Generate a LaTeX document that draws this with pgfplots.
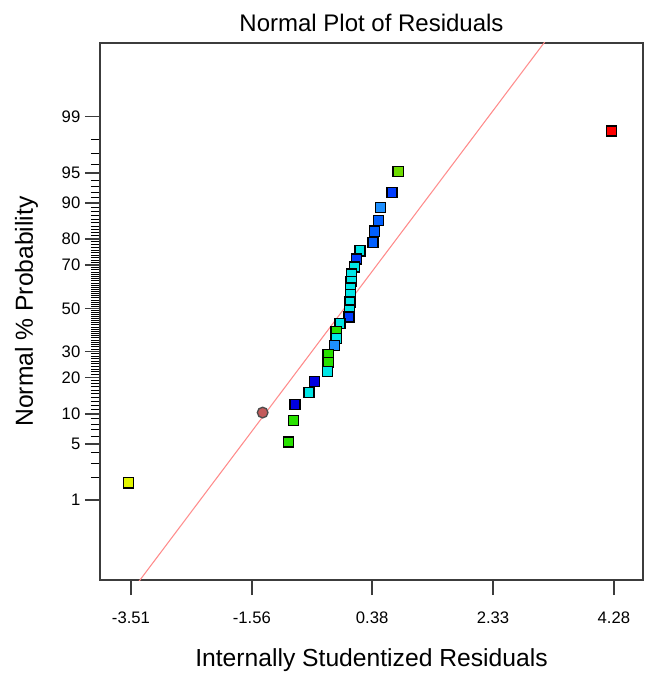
\documentclass[border=0pt]{standalone}
\usepackage{pgfplots}
\pgfplotsset{compat=1.18}
\usepackage{pgfplotstable}
\usepackage{fontspec}
\setmainfont{Liberation Sans}

\definecolor{pR}{RGB}{255,0,0}
\definecolor{pL}{RGB}{110,220,0}
\definecolor{pB}{RGB}{0,60,255}
\definecolor{pS}{RGB}{30,144,255}
\definecolor{pM}{RGB}{0,95,255}
\definecolor{pC}{RGB}{0,230,230}
\definecolor{pD}{RGB}{0,0,225}
\definecolor{pG}{RGB}{40,225,0}
\definecolor{pW}{RGB}{195,90,90}
\definecolor{pY}{RGB}{225,245,0}
\definecolor{fitline}{RGB}{255,140,140}
\definecolor{axgray}{RGB}{60,60,60}

% residual vs normal score (z of the plotting position)
\pgfplotstableread{
x z c
4.243 2.152 R
0.801 1.660 L
0.700 1.403 B
0.517 1.221 S
0.482 1.069 M
0.421 0.936 M
0.393 0.799 M
0.184 0.698 C
0.127 0.598 B
0.095 0.501 C
0.046 0.416 C
0.043 0.325 C
0.035 0.246 C
0.034 0.167 C
0.022 0.076 C
0.017 -0.021 C
0.006 -0.106 B
-0.139 -0.182 C
-0.199 -0.284 G
-0.199 -0.367 C
-0.231 -0.449 S
-0.328 -0.558 G
-0.328 -0.660 G
-0.344 -0.765 C
-0.550 -0.888 D
-0.639 -1.024 C
-0.865 -1.164 D
-1.386 -1.265 W
-0.886 -1.364 G
-0.970 -1.623 G
-3.554 -2.117 Y
}\resid

\begin{document}
\begin{tikzpicture}
\useasboundingbox (-75pt,-70.5pt) rectangle (409.5pt,435pt);
\begin{axis}[
  scale only axis, width=407.25pt, height=402.75pt,
  xmin=-4.01, xmax=4.75, ymin=-3.297, ymax=3.22,
  axis line style={draw=axgray, line width=1.2pt},
  tick pos=left, tick align=outside,
  major tick length=11.25pt, minor tick length=6.75pt,
  every major tick/.append style={draw=axgray, line width=1.2pt},
  every minor tick/.append style={draw=black, line width=0.75pt},
  xtick={-3.51,-1.56,0.38,2.33,4.28},
  xticklabels={-3.51,-1.56,0.38,2.33,4.28},
  ytick={-2.3263,-1.6449,-1.2816,-0.8416,-0.5244,0,0.5244,0.8416,1.2816,1.6449,2.3263},
  yticklabels={1,5,10,20,30,50,70,80,90,95,99},
  minor ytick={-2.0537,-1.8808,-1.7507,-1.5548,-1.4758,-1.4051,-1.3408,
    -1.2265,-1.1750,-1.1264,-1.0803,-1.0364,-0.9945,-0.9542,-0.9154,-0.8779,
    -0.8064,-0.7722,-0.7388,-0.7063,-0.6745,-0.6433,-0.6128,-0.5828,-0.5534,
    -0.4959,-0.4677,-0.4399,-0.4125,-0.3853,-0.3585,-0.3319,-0.3055,-0.2793,-0.2533,
    -0.2275,-0.2019,-0.1764,-0.1510,-0.1257,-0.1004,-0.0753,-0.0502,-0.0251,
    0.0251,0.0502,0.0753,0.1004,0.1257,0.1510,0.1764,0.2019,0.2275,
    0.2533,0.2793,0.3055,0.3319,0.3585,0.3853,0.4125,0.4399,0.4677,0.4959,
    0.5534,0.5828,0.6128,0.6433,0.6745,0.7063,0.7388,0.7722,0.8064,
    0.8779,0.9154,0.9542,0.9945,1.0364,1.0803,1.1264,1.1750,1.2265,
    1.3408,1.4051,1.4758,1.5548,1.7507,1.8808,2.0537},
  tick label style={font=\fontsize{12.5}{14}\selectfont},
  xticklabel style={yshift=-9pt},
  title={Normal Plot of Residuals},
  title style={at={(axis description cs:0.5,1.0074)}, anchor=base, font=\fontsize{18}{21}\selectfont},
  xlabel={Internally Studentized Residuals},
  xlabel style={at={(axis description cs:0.5,-0.1614)}, anchor=base, font=\fontsize{18.5}{22}\selectfont},
  ylabel={Normal \% Probability},
  ylabel style={at={(axis description cs:-0.1234,0.5)}, anchor=base, font=\fontsize{18.5}{22}\selectfont},
  scatter/classes={
    R={mark=square*, fill=pR, draw=black},
    L={mark=square*, fill=pL, draw=black},
    B={mark=square*, fill=pB, draw=black},
    S={mark=square*, fill=pS, draw=black},
    M={mark=square*, fill=pM, draw=black},
    C={mark=square*, fill=pC, draw=black},
    D={mark=square*, fill=pD, draw=black},
    G={mark=square*, fill=pG, draw=black},
    W={mark=*, fill=pW, draw=black!70, mark size=4pt},
    Y={mark=square*, fill=pY, draw=black}},
]
\addplot[no marks, color=fitline, line width=0.8pt] coordinates {(-3.40,-3.332) (3.20,3.268)};
\addplot[scatter, only marks, scatter src=explicit symbolic, mark size=3.8pt,
  mark options={line width=1pt}]
  table[x=x, y=z, meta=c] {\resid};
\end{axis}
\end{tikzpicture}
\end{document}
